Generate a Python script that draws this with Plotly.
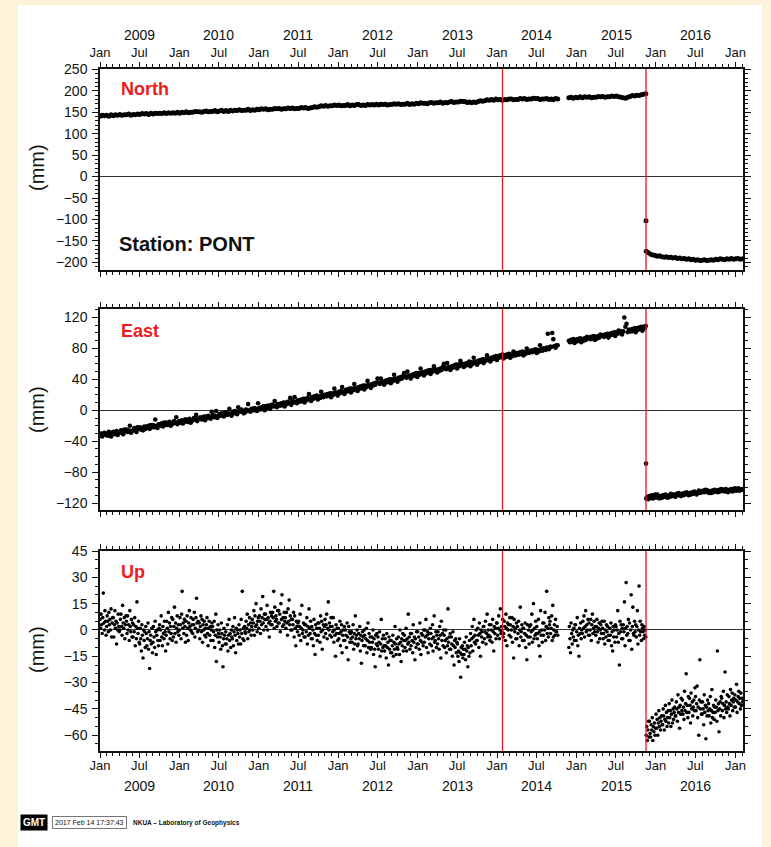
import pandas as pd
import plotly.graph_objects as go

# ---------------------------------------------------------------------------
# GPS station PONT – position time series (North, East, Up) in mm
# Continuous data segments (gaps between them have no solution)
# ---------------------------------------------------------------------------
SEG_A = ("2009-01-01", "2014-10-07")
SEG_B = ("2014-11-27", "2015-11-16")
SEG_C = ("2015-11-18", "2017-02-03")
EVENT_DAY = "2015-11-17"

# Earthquake epochs marked with vertical lines
events = ["2014-01-26", "2015-11-17"]

years = [2009, 2010, 2011, 2012, 2013, 2014, 2015, 2016]

# ---------------- North (mm) ----------------
north_a = [
    141, 143, 142, 143, 141, 144, 142, 144, 143, 145, 143, 144, 144, 146, 143, 145, 144, 146,
    145, 147, 146, 147, 145, 148, 146, 148, 147, 148, 147, 149, 147, 149, 148, 149, 148, 150,
    148, 150, 149, 151, 149, 150, 150, 152, 151, 151, 150, 152, 153, 151, 152, 152, 154, 151,
    153, 155, 152, 154, 152, 155, 153, 155, 154, 156, 154, 155, 155, 157, 154, 156, 155, 157,
    156, 158, 157, 158, 156, 157, 157, 159, 158, 159, 157, 158, 158, 160, 159, 160, 158, 159,
    159, 161, 160, 161, 159, 160, 161, 163, 162, 163, 165, 164, 166, 164, 165, 165, 167, 166,
    167, 165, 166, 166, 168, 165, 167, 166, 168, 168, 166, 167, 166, 168, 167, 168, 167, 169,
    167, 169, 168, 169, 167, 168, 168, 170, 169, 170, 168, 169, 169, 171, 168, 170, 169, 171,
    170, 172, 171, 171, 170, 172, 173, 171, 172, 172, 174, 171, 173, 172, 174, 175, 173, 174,
    174, 176, 175, 175, 173, 174, 172, 174, 173, 175, 177, 176, 177, 179, 178, 180, 178, 181,
    179, 180, 178, 180, 179, 181, 181, 179, 180, 180, 182, 181, 182, 180, 181, 181, 183, 182,
    182, 180, 181, 181, 182, 180, 181, 179, 182, 181,
]
north_b = [
    184, 185, 183, 185, 184, 186, 184, 186, 185, 186, 184, 185, 185, 187, 186, 187, 185, 186,
    186, 188, 187, 188, 186, 185, 184, 183, 185, 187, 189, 188, 190, 189, 191, 192, 193,
]
north_event = -103
north_c = [
    -174, -178, -181, -183, -184, -186, -185, -187, -188, -187, -189, -188, -190, -189, -191,
    -190, -192, -191, -193, -192, -194, -193, -195, -194, -196, -195, -194, -196, -195, -194,
    -195, -193, -194, -192, -193, -194, -192, -193, -191, -193, -192, -191, -193, -192,
]

# ---------------- East (mm) ----------------
east_a = [
    # 2009
    -33, -30, -34, -31, -29, -32, -30, -33, -28, -31, -34, -29, -28, -31, -30, -27, -32, -29,
    -29, -26, -28, -31, -25, -27, -25, -28, -26, -20, -29, -27, -26, -23, -25, -28, -22, -24,
    -22, -25, -23, -26, -21, -24, -21, -23, -20, -24, -19, -22, -19, -22, -12, -20, -23, -18,
    -18, -20, -17, -21, -16, -19, -16, -19, -17, -15, -20, -18, -17, -14, -16, -9, -18, -15,
    # 2010
    -14, -16, -13, -17, -15, -12, -12, -15, -13, -11, -16, -14, -13, -10, -12, -6, -14, -11,
    -11, -9, -12, -10, -8, -13, -8, -10, -7, -9, -11, -2, -6, -9, -7, -1, -10, -8,
    -5, -7, -4, -6, -8, -3, -3, -6, -4, 2, -5, -7, -2, -4, -1, -3, -5, 4,
    0, -2, 1, -1, -4, -3, 1, -1, 8, 0, -2, 2, 2, 0, 3, 1, -1, 9,
    # 2011
    3, 1, 4, 2, 5, 0, 5, 3, 6, 4, 2, 7, 7, 5, 12, 6, 4, 8,
    8, 6, 9, 7, 10, 5, 10, 8, 11, 9, 16, 7, 12, 10, 17, 11, 9, 13,
    13, 11, 14, 12, 15, 10, 15, 13, 16, 21, 14, 12, 17, 15, 18, 16, 19, 14,
    18, 16, 24, 19, 17, 20, 20, 18, 21, 19, 22, 17, 22, 20, 28, 23, 21, 19,
    # 2012
    24, 22, 25, 30, 23, 21, 26, 24, 27, 25, 28, 23, 28, 26, 34, 29, 27, 25,
    30, 28, 31, 29, 32, 27, 32, 30, 38, 33, 31, 29, 34, 32, 35, 33, 36, 41,
    36, 34, 41, 37, 35, 33, 38, 36, 39, 37, 40, 35, 40, 38, 46, 41, 39, 37,
    42, 40, 43, 41, 44, 48, 44, 42, 50, 45, 43, 41, 46, 44, 47, 45, 48, 43,
    # 2013
    48, 46, 54, 49, 47, 45, 50, 48, 51, 49, 52, 47, 52, 50, 57, 53, 51, 49,
    53, 51, 54, 52, 56, 60, 55, 53, 61, 56, 54, 52, 57, 55, 58, 56, 59, 54,
    59, 57, 64, 60, 58, 56, 60, 58, 61, 59, 63, 57, 62, 60, 68, 63, 61, 59,
    64, 62, 65, 63, 66, 61, 66, 64, 71, 67, 65, 63, 68, 66, 69, 67, 70, 65,
    # 2014
    70, 68, 71, 69, 72, 67, 71, 69, 72, 70, 73, 68, 72, 70, 76, 73, 71, 74,
    74, 72, 75, 73, 76, 71, 75, 73, 80, 76, 74, 77, 77, 75, 78, 76, 79, 74,
    78, 76, 84, 79, 77, 80, 80, 78, 81, 99, 79, 82, 82, 100, 92, 83, 81, 84,
    84,
]
east_b = [
    90, 88, 91, 89, 92, 87, 91, 89, 92, 90, 93, 88, 92, 90, 93, 91, 95, 94,
    94, 92, 95, 93, 96, 91, 95, 93, 96, 94, 98, 97, 97, 95, 98, 96, 99, 94,
    99, 97, 100, 98, 101, 96, 101, 99, 103, 100, 102, 98, 102, 120, 108, 112, 101, 104,
    104, 102, 105, 103, 106, 101, 106, 104, 107, 105, 108, 103, 108, 106, 109,
]
east_event = -69
east_c = [
    -114, -112, -115,
    -111, -113, -110, -114, -112, -109, -113, -109, -112, -114, -111, -113,
    -110, -112, -109, -111, -113, -110, -112, -108, -111, -109, -110, -112,
    -108, -110, -107, -109, -111, -108, -110, -107, -109, -106, -108, -110,
    -107, -109, -106, -108, -105, -107, -109, -106, -104, -107, -105, -106,
    -104, -106, -103, -105, -104, -107, -105, -107, -104, -106, -103, -105,
    -104, -106, -103, -105, -102, -104, -103, -105, -102, -104, -106, -103,
    -104, -102, -105, -103, -101, -104, -103, -101, -104, -102, -103, -102,
]

# ---------------- Up (mm) ----------------
up_a = [
    # 2009
    6, 1, 9, 3, -2, 7, 21, 4, 0, 11, 5, -3,
    2, 8, 5, -1, 10, 3, 6, 0, 12, -4, 4, 7,
    7, -4, 3, 11, 1, 5, -8, 4, 0, 9, 2, -1,
    0, 6, 9, 2, -3, 14, 4, 1, 7, -5, 3, 8,
    5, -2, 8, 0, 3, -6, 11, 2, -1, 6, -4, 4,
    -4, 3, -1, 7, -9, 2, -5, 16, 1, -2, 5, -7,
    -8, 1, -5, -12, 3, -3, -16, 0, -6, -1, -10, 2,
    -2, -9, -5, 4, -11, -1, -22, -6, -3, -8, 1, -13,
    -7, 2, -4, -10, 5, -1, -14, -3, 0, -6, -9, 1,
    3, -6, 0, 8, -4, -9, 2, -2, -5, 5, -1, -12,
    -3, 5, 1, -8, 10, -1, 4, -5, 2, -2, 7, -6,
    6, -4, 2, 13, -2, 4, -7, 1, 8, -1, 3, -3,
    # 2010
    0, 7, 3, -5, 9, 22, 1, 4, -2, 6, 2, -7,
    5, -3, 8, 1, -6, 4, 11, 2, 0, 7, -1, 3,
    -2, 6, 3, 10, -4, 1, 7, 18, 4, -1, 5, 0,
    4, -5, 2, 8, -1, 6, -7, 3, 0, 5, -3, 1,
    -4, 3, 7, -2, -9, 1, 5, -3, 2, -6, 0, 4,
    2, -6, -1, 5, -10, -3, 9, -18, 0, -4, 3, -2,
    -7, 0, -4, -11, 4, -2, -9, -21, -5, 1, -3, -8,
    -1, -8, -5, 3, -12, -3, 6, -6, -2, -10, 0, -4,
    -5, 2, -9, -1, 7, -3, -13, 1, -6, 0, -2, -8,
    3, -4, 0, -8, 6, -2, 22, -5, 1, -6, 2, -1,
    -2, 5, 1, 9, -5, 3, -1, 7, 0, 4, -3, 2,
    6, 0, 4, 11, -3, 8, 2, 15, 3, -1, 5, 7,
    # 2011
    1, 8, 5, -2, 12, 3, 7, 19, 4, 0, 9, 6,
    9, 2, 6, 14, 0, 7, 4, -4, 5, 10, 3, 8,
    3, 10, 7, 22, 1, 13, 5, 8, 6, 2, 11, 4,
    11, 4, 9, -1, 15, 6, 20, 2, 7, 3, 10, 5,
    7, 1, 10, 4, -3, 12, 5, 17, 3, 8, 0, 6,
    0, 6, 3, 10, -4, 8, 1, -9, 5, 2, -1, 4,
    5, -3, 2, 9, -6, 1, 14, -2, 0, 4, -4, 3,
    -4, 3, -1, 7, -8, 2, -3, 12, 1, -2, 5, -5,
    2, -5, 0, -9, 6, -2, -14, 3, -3, 1, -6, 4,
    -3, 4, 1, -7, 8, -1, 5, -11, 0, 3, -4, 2,
    6, -2, 3, 9, -5, 1, 16, 0, 4, -3, 2, 7,
    -4, 2, -1, 7, -7, 0, -3, -15, 3, -2, 1, -6,
    # 2012
    1, -5, -2, 5, -9, -1, 3, -13, -3, 0, -6, 2,
    -6, 0, -3, -10, 4, -4, -17, 2, -1, -7, -2, -5,
    -1, -7, -4, 3, -11, -2, -8, 8, -5, -3, 0, -9,
    -8, -2, -5, 2, -12, -3, -19, -6, -1, -4, -9, 0,
    -3, -9, -5, 1, -13, -6, 4, -10, -2, -7, -4, -11,
    -10, -4, -7, 0, -14, -5, -11, -21, -3, -8, -2, -9,
    -4, -11, -7, -1, -15, -8, 6, -12, -5, -10, -3, -9,
    -12, -5, -9, -16, -2, -10, -7, -20, -4, -11, -6, -13,
    -6, -13, -9, -3, -15, -7, -11, 2, -8, -14, -5, -10,
    -11, -4, -8, -14, 0, -7, -18, -5, -9, -2, -12, -6,
    -3, -10, -6, 1, -12, -5, -8, 9, -7, -4, -11, -2,
    -9, -2, -6, -13, 3, -7, -4, -17, -5, -10, -1, -8,
    # 2013
    -1, -8, -4, -11, 4, -6, -14, -2, -7, -3, -9, 0,
    -7, 0, -4, 6, -10, -3, -1, -13, -5, -2, -8, 1,
    -2, -9, -5, 3, -12, -4, 8, -7, -6, -1, -10, -3,
    -8, -1, -5, -11, 2, -3, -16, 5, -6, -2, -9, 0,
    -3, -10, -6, 0, -13, -5, -9, 12, -7, -4, -11, -2,
    -11, -4, -8, -15, -1, -9, -20, -6, -10, -5, -13, -7,
    -8, -15, -12, -18, -5, -13, -27, -10, -14, -9, -16, -11,
    -14, -7, -11, -17, -4, -12, -9, -21, -10, -15, -6, -13,
    -2, -9, -5, 2, -12, -4, 6, -7, -3, -8, 0, -6,
    -6, 1, -3, -10, 4, -2, -15, 0, -4, -1, -7, 2,
    2, -5, -1, 5, -8, -2, 9, -4, 0, -3, 3, -6,
    -4, 3, 0, -7, 6, -1, -12, 2, -2, 1, -5, 4,
    # 2014
    4, -3, 1, 8, -5, 0, 12, -2, 2, -1, 6, -4,
    -2, 5, 2, -6, 9, 1, -9, 4, 0, 3, -3, 7,
    3, -4, 0, 7, -7, 2, -16, 6, -1, 1, -5, 4,
    -5, 2, -2, 5, -9, 0, 13, -4, -1, 3, -6, 1,
    1, -6, -2, 4, -10, -3, -17, 3, -4, 0, -8, 2,
    -4, 3, -1, 9, -7, 0, 15, -5, 1, -3, 5, -2,
    2, -5, -2, 6, -9, -1, -15, 11, -3, 0, -7, 4,
    -3, 4, 0, 10, -6, 2, 22, -2, 1, -4, 7, 3,
    5, -2, 1, 8, -6, 14, -4, 0, 3, -3, 6, -1,
    -1, 2, -3,
]
up_b = [
    -10, 2, -5, -13, 4, -2, -8, 0, -4, 1, -6, 3,
    3, -6, -1, 7, -9, -3, -15, 1, -2, 4, -5, 0,
    -2, 5, 1, 8, -4, 2, 11, -1, 3, 0, 6, -3,
    4, -3, 0, 6, -6, 3, 9, -2, 1, 5, -1, 2,
    -3, 2, 6, -1, -7, 1, 4, -5, 0, 3, -2, 5,
    1, -5, -2, 5, -8, 0, -4, 3, -1, 2, -6, -3,
    -6, 1, -3, 4, -9, -1, -12, 2, -4, 0, -7, 3,
    2, -4, 0, 11, -7, -2, -20, 5, -1, 3, -5, 1,
    -5, 3, -1, 16, -9, 1, 27, -3, 2, -2, 6, -6,
    4, -6, 0, 20, -11, 2, 13, -2, -3, 5, -1, 3,
    -4, 2, 11, -8, 0, 25, -3, 5, -1, -6, 3, 1,
    -1, -5, 2, -3, 0, -4,
]
up_c = [
    -60, -55, -63, -57, -52, -61,
    -52, -59, -61, -54, -57, -50, -63, -55, -58, -53, -60, -56,
    -48, -56, -51, -60, -53, -46, -55, -50, -57, -52, -49, -54,
    -54, -45, -49, -57, -51, -43, -52, -47, -55, -50, -46, -53,
    -42, -50, -46, -55, -48, -40, -53, -45, -51, -47, -44, -49,
    -49, -41, -45, -52, -37, -47, -44, -56, -43, -48, -39, -46,
    -40, -48, -44, -51, -35, -46, -42, -25, -47, -43, -50, -38,
    -47, -39, -43, -53, -36, -45, -41, -49, -44, -40, -46, -33,
    -38, -46, -42, -32, -50, -44, -60, -40, -17, -45, -41, -48,
    -48, -41, -45, -54, -37, -47, -43, -62, -44, -49, -40, -46,
    -42, -49, -45, -38, -53, -46, -34, -50, -47, -43, -51, -44,
    -47, -40, -44, -52, -12, -46, -42, -58, -45, -41, -49, -38,
    -39, -46, -42, -35, -50, -43, -24, -45, -41, -47, -37, -44,
    -45, -38, -42, -49, -34, -43, -40, -36, -46, -41, -39, -44,
    -37, -44, -40, -31, -47, -41, -38, -35, -42, -39, -45, -36,
    -43, -39, -41,
]


def epochs(seg, n):
    return pd.date_range(seg[0], seg[1], periods=n)


def series(a, b, c, event_value=None):
    xs = list(epochs(SEG_A, len(a))) + list(epochs(SEG_B, len(b)))
    ys = list(a) + list(b)
    if event_value is not None:
        xs.append(pd.Timestamp(EVENT_DAY))
        ys.append(event_value)
    xs += list(epochs(SEG_C, len(c)))
    ys += list(c)
    return xs, ys


# ---------------------------------------------------------------------------
# Page geometry (pixels) -> paper coordinates
W, H = 771, 847
ML, MR, MT, MB = 100, 28, 69, 96
PW, PH = W - ML - MR, H - MT - MB


def px(x):
    return (x - ML) / PW


def py(y):
    return (H - MB - y) / PH


domains = [
    [py(270), py(69)],
    [py(510), py(309)],
    [py(751), py(551)],
]

X_RANGE = ["2009-01-01", "2017-02-05"]
jan_ticks = [f"{y}-01-01" for y in years + [2017]]
jul_ticks = [f"{y}-07-01" for y in years]
tick_vals = sorted(jan_ticks + jul_ticks)
tick_text = ["Jan" if t.endswith("-01-01") else "Jul" for t in tick_vals]

FONT = "Liberation Sans, Arial, Helvetica, sans-serif"
INK = "#111111"

fig = go.Figure()

components = [
    ("North", series(north_a, north_b, north_c, north_event), 5.0),
    ("East", series(east_a, east_b, east_c, east_event), 4.6),
    ("Up", series(up_a, up_b, up_c), 3.6),
]

for i, (name, (xs, ys), size) in enumerate(components):
    suffix = "" if i == 0 else str(i + 1)
    fig.add_trace(go.Scatter(
        x=xs, y=ys, mode="markers", name=name,
        marker=dict(color="black", size=size, line=dict(width=0)),
        xaxis="x" + suffix, yaxis="y" + suffix, showlegend=False,
        hoverinfo="x+y",
    ))

y_specs = [
    dict(range=[-218, 251], dtick=50, minor_dtick=10),
    dict(range=[-129, 131], dtick=40, minor_dtick=10),
    dict(range=[-69, 45], dtick=15, minor_dtick=5),
]

layout = dict(
    width=W, height=H,
    margin=dict(l=ML, r=MR, t=MT, b=MB, pad=0),
    paper_bgcolor="#FDF3DB",
    plot_bgcolor="white",
    font=dict(family=FONT, color=INK, size=13),
    showlegend=False,
)

label_standoff = [0, 0, -3]

for i in range(3):
    suffix = "" if i == 0 else str(i + 1)
    key = "xaxis" + suffix
    layout[key] = dict(
        type="date", range=X_RANGE, domain=[0, 1], anchor="y" + suffix,
        tickmode="array", tickvals=tick_vals, ticktext=tick_text,
        ticks="outside", ticklen=5, tickwidth=1, tickcolor=INK,
        minor=dict(dtick="M1", tick0="2009-01-01", ticks="outside", ticklen=3,
                   tickwidth=1, tickcolor=INK, showgrid=False),
        showline=True, linecolor=INK, linewidth=1.5, mirror="allticks",
        showgrid=False, zeroline=False,
        showticklabels=(i != 1),
        side="top" if i == 0 else "bottom",
        tickfont=dict(size=13, family=FONT, color=INK),
        ticklabelstandoff=label_standoff[i],
    )
    if i > 0:
        layout[key]["matches"] = "x"
    # longer January ticks
    layout["xaxis" + str(i + 4)] = dict(
        type="date", range=X_RANGE, overlaying="x" + suffix, anchor="y" + suffix,
        tickmode="array", tickvals=jan_ticks, ticks="outside", ticklen=10,
        tickwidth=1, tickcolor=INK, showticklabels=False, showline=False,
        mirror="allticks", showgrid=False, zeroline=False,
    )
    spec = y_specs[i]
    layout["yaxis" + suffix] = dict(
        domain=domains[i], anchor="x" + suffix, range=spec["range"],
        tick0=0, dtick=spec["dtick"], ticks="outside", ticklen=6, tickwidth=1,
        tickcolor=INK,
        minor=dict(dtick=spec["minor_dtick"], tick0=0, ticks="outside", ticklen=3,
                   tickwidth=1, tickcolor=INK, showgrid=False),
        showline=True, linecolor=INK, linewidth=1.5, mirror="allticks",
        showgrid=False, zeroline=True, zerolinecolor="#333333", zerolinewidth=1,
        tickfont=dict(size=14, family=FONT, color=INK),
        ticklabelstandoff=2,
    )

fig.update_layout(**layout)

# Earthquake markers
for i in range(3):
    suffix = "" if i == 0 else str(i + 1)
    for ev in events:
        fig.add_shape(type="line", xref="x" + suffix, yref=f"y{suffix} domain",
                      x0=ev, x1=ev, y0=0, y1=1,
                      line=dict(color="#E8141B", width=1.3), layer="above")

# White sheet behind the plot
fig.add_shape(type="rect", xref="paper", yref="paper", layer="below",
              x0=px(18), x1=px(762), y0=py(847), y1=py(5),
              fillcolor="white", line=dict(width=0))

annotations = []
# Year labels above the top panel and below the bottom panel
for y in years:
    for yy in (py(35), py(786)):
        annotations.append(dict(x=f"{y}-07-02", xref="x", y=yy, yref="paper",
                                xanchor="center", yanchor="middle",
                                text=str(y), showarrow=False,
                                font=dict(size=14, family=FONT, color=INK)))

# Panel titles
for name, ypx in (("North", 89), ("East", 331), ("Up", 572)):
    annotations.append(dict(x=px(119), y=py(ypx), xref="paper", yref="paper",
                            text=f"<b>{name}</b>", showarrow=False,
                            xanchor="left", yanchor="middle",
                            font=dict(size=18, family=FONT, color="#EE1C1C")))
annotations.append(dict(x=px(117), y=py(244), xref="paper", yref="paper",
                        text="<b>Station: PONT</b>", showarrow=False,
                        xanchor="left", yanchor="middle",
                        font=dict(size=20, family=FONT, color=INK)))

# Axis unit labels
for ypx in (168, 410, 650):
    annotations.append(dict(x=px(37), y=py(ypx), xref="paper", yref="paper",
                            text="(mm)", textangle=-90, showarrow=False,
                            xanchor="center", yanchor="middle",
                            font=dict(size=20, family=FONT, color=INK)))

# Footer stamp
annotations.append(dict(x=px(20), y=py(823), xref="paper", yref="paper",
                        text="<b>GMT</b>", showarrow=False,
                        xanchor="left", yanchor="middle",
                        bgcolor="black", borderpad=2,
                        font=dict(size=10, family=FONT, color="white")))
annotations.append(dict(x=px(52), y=py(823), xref="paper", yref="paper",
                        text="2017 Feb 14 17:37:43", showarrow=False,
                        xanchor="left", yanchor="middle",
                        bgcolor="white", bordercolor="#777777", borderwidth=1,
                        borderpad=2,
                        font=dict(size=7, family=FONT, color=INK)))
annotations.append(dict(x=px(131), y=py(823), xref="paper", yref="paper",
                        text="<b>NKUA – Laboratory of Geophysics</b>", showarrow=False,
                        xanchor="left", yanchor="middle",
                        font=dict(size=6.5, family=FONT, color=INK)))

fig.update_layout(annotations=annotations)

fig.write_html("out.html")
